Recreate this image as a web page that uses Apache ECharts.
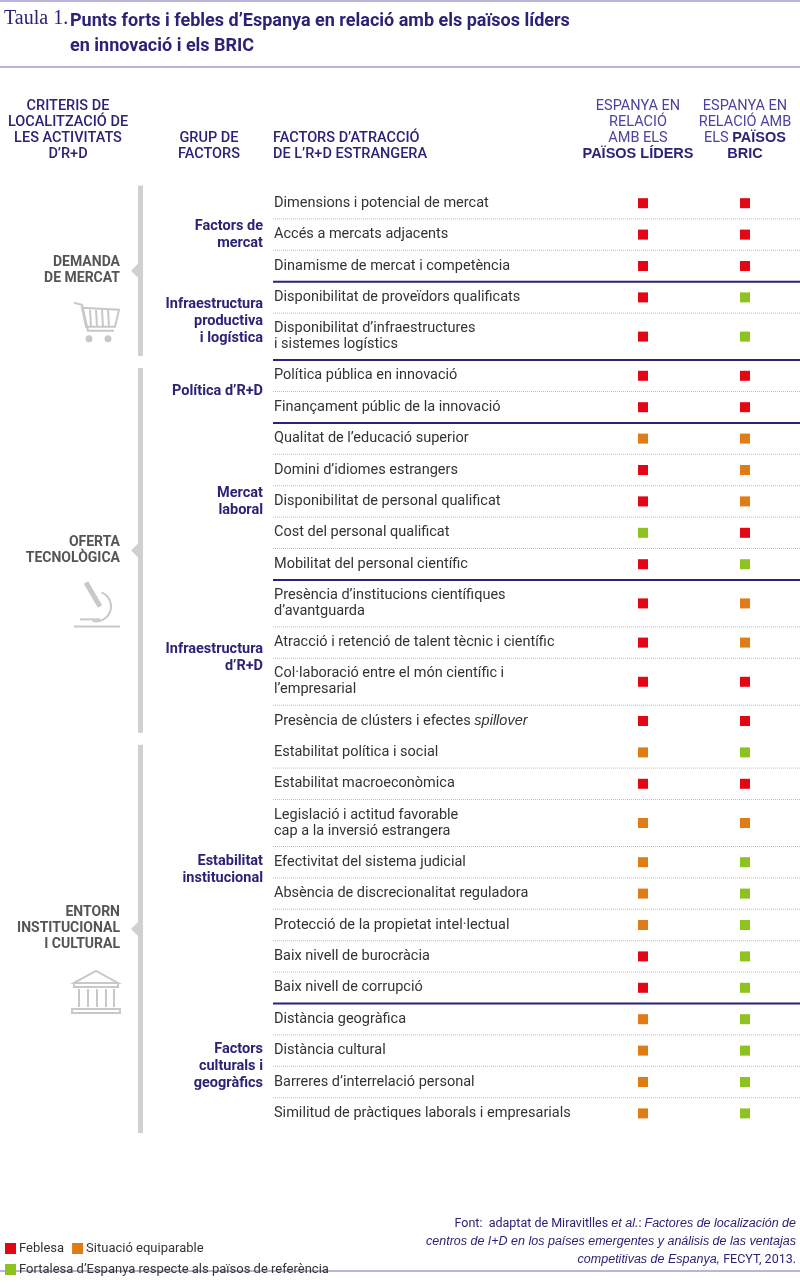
<!DOCTYPE html>
<html><head><meta charset="utf-8">
<script src="https://cdn.jsdelivr.net/npm/echarts@6/dist/echarts.min.js"></script>
<style>html,body{margin:0;background:#fff}#main{width:800px;height:1284px}</style>
</head><body><div id="main"></div>
<script>
// factors (rows), line-count of each row, and status vs leaders / BRIC
// 0 = Feblesa, 1 = Situació equiparable, 2 = Fortalesa
const factors = [
  'Dimensions i potencial de mercat', 'Accés a mercats adjacents', 'Dinamisme de mercat i competència',
  'Disponibilitat de proveïdors qualificats', 'Disponibilitat d’infraestructures\ni sistemes logístics',
  'Política pública en innovació', 'Finançament públic de la innovació',
  'Qualitat de l’educació superior', 'Domini d’idiomes estrangers', 'Disponibilitat de personal qualificat',
  'Cost del personal qualificat', 'Mobilitat del personal científic',
  'Presència d’institucions científiques\nd’avantguarda', 'Atracció i retenció de talent tècnic i científic',
  'Col·laboració entre el món científic i\nl’empresarial', 'Presència de clústers i efectes {i|spillover}',
  'Estabilitat política i social', 'Estabilitat macroeconòmica',
  'Legislació i actitud favorable\ncap a la inversió estrangera', 'Efectivitat del sistema judicial',
  'Absència de discrecionalitat reguladora', 'Protecció de la propietat intel·lectual',
  'Baix nivell de burocràcia', 'Baix nivell de corrupció',
  'Distància geogràfica', 'Distància cultural', 'Barreres d’interrelació personal',
  'Similitud de pràctiques laborals i empresarials'
];
const leaders = [0,0,0,0,0, 0,0, 1,0,0,2,0, 0,0,0,0, 1,0,1,1,1,1,0,0, 1,1,1,1];
const bric    = [0,0,0,2,2, 0,0, 1,1,1,0,2, 1,1,0,0, 2,0,1,2,2,2,2,2, 2,2,2,2];
const columns = ['Líders', 'BRIC'];
const statusNames = ['Feblesa', 'Situació equiparable', 'Fortalesa d’Espanya respecte als països de referència'];
const statusColors = ['#e30613', '#e07c16', '#8dc21f'];
// groups: [label, first row, last row]
const groups = [
  ['Factors de\nmercat', 0, 2], ['Infraestructura\nproductiva\ni logística', 3, 4],
  ['Política d’R+D', 5, 6], ['Mercat\nlaboral', 7, 11], ['Infraestructura\nd’R+D', 12, 15],
  ['Estabilitat\ninstitucional', 16, 23], ['Factors\nculturals i\ngeogràfics', 24, 27]
];
const criteria = [
  ['DEMANDA\nDE MERCAT', 0, 4], ['OFERTA\nTECNOLÒGICA', 5, 15], ['ENTORN\nINSTITUCIONAL\nI CULTURAL', 16, 27]
];

const TOP = 187.5, SINGLE = 31.4, DOUBLE = 47;
const heights = factors.map(f => f.includes('\n') ? DOUBLE : SINGLE);
const starts = []; let acc = 0;
heights.forEach(h => { starts.push(acc); acc += h; });
const total = acc;
const centers = starts.map((s, i) => s + heights[i] / 2);

const NAVY = '#2b2377', GREY = '#d0d0d0';
const chart = echarts.init(document.getElementById('main'));

const series = statusNames.map((name, k) => ({
  name, type: 'scatter', symbol: 'rect', symbolSize: 10,
  itemStyle: { color: statusColors[k], opacity: 1 },
  data: [].concat(
    leaders.map((v, i) => v === k ? [0, centers[i]] : null).filter(Boolean),
    bric.map((v, i) => v === k ? [1, centers[i]] : null).filter(Boolean))
}));

const g = [];
const txt = (x, y, text, style) => g.push({ type: 'text', x, y, style: Object.assign({ text, fontFamily: 'Roboto', fontSize: 14, fill: '#333' }, style) });
const line = (x1, y1, x2, y2, stroke, lineWidth, lineDash) => g.push({ type: 'line', shape: { x1, y1, x2, y2 }, style: { stroke, lineWidth, lineDash } });

// title and rules
line(0, 1, 800, 1, '#b9b5da', 2);
line(0, 67, 800, 67, '#b9b5da', 2);
line(0, 1271, 800, 1271, '#b9b5da', 2);
txt(4, 9, 'Taula 1.', { fontFamily: 'Liberation Serif', fontSize: 20, fill: NAVY });
txt(70, 9, 'Punts forts i febles d’Espanya en relació amb els països líders\nen innovació i els BRIC',
  { fontSize: 18, fontWeight: 'bold', fill: NAVY, lineHeight: 25 });
// headers
const hdr = { fontSize: 14.5, fill: NAVY, lineHeight: 16, fontWeight: 500 };
txt(68, 98, 'CRITERIS DE\nLOCALITZACIÓ DE\nLES ACTIVITATS\nD’R+D', Object.assign({ align: 'center' }, hdr));
txt(209, 130, 'GRUP DE\nFACTORS', Object.assign({ align: 'center' }, hdr));
txt(273, 130, 'FACTORS D’ATRACCIÓ\nDE L’R+D ESTRANGERA', hdr);
['ESPANYA EN\nRELACIÓ\nAMB ELS\n{b|PAÏSOS LÍDERS}', 'ESPANYA EN\nRELACIÓ AMB\nELS {b|PAÏSOS}\n{b|BRIC}'].forEach((t, i) =>
  txt(i ? 745 : 638, 98, t, { align: 'center', fontSize: 14.5, fill: '#4a43a0', lineHeight: 16,
    rich: { b: { fontWeight: 'bold', fill: NAVY, fontSize: 14.5 } } }));

// rows
factors.forEach((f, i) => {
  txt(274, TOP + centers[i], f, { verticalAlign: 'middle', lineHeight: 16, fontSize: 14.5,
    rich: { i: { fontStyle: 'italic', fontSize: 14.5, fill: '#333' } } });
  if (i < factors.length - 1) {
    const y = TOP + starts[i] + heights[i];
    const thick = groups.some(gr => gr[2] === i);
    if (i !== 15) line(273, y, 800, y, thick ? NAVY : '#bdbdd0', thick ? 2 : 1, thick ? null : [1, 1]);
  }
});
groups.forEach(([lab, a, b]) => {
  const y = TOP + (starts[a] + starts[b] + heights[b]) / 2;
  txt(263, y, lab, { align: 'right', verticalAlign: 'middle', fontWeight: 'bold', fill: NAVY, lineHeight: 17, fontSize: 14.5 });
});
criteria.forEach(([lab, a, b]) => {
  const y0 = TOP + starts[a] + (a ? 8 : -2), y1 = TOP + starts[b] + heights[b] - (b < 27 ? 4 : -4);
  const mid = (y0 + y1) / 2 - (a === 16 ? 10 : 0);
  g.push({ type: 'rect', shape: { x: 138, y: y0, width: 5, height: y1 - y0 }, style: { fill: GREY } });
  g.push({ type: 'polygon', shape: { points: [[138, mid - 7], [131, mid], [138, mid + 7]] }, style: { fill: GREY } });
  const n = lab.split('\n').length;
  txt(120, mid, lab, { align: 'right', verticalAlign: 'middle', fontWeight: 'bold', fill: '#555', fontSize: 14, lineHeight: 16 });
  // icons
  const iy = mid + n * 8 + 16;
  const ic = { stroke: '#c8c8c8', lineWidth: 2, fill: 'none' };
  if (a === 0) {
    g.push({ type: 'polyline', shape: { points: [[74, iy], [82, iy + 2], [88, iy + 28], [114, iy + 28]] }, style: ic });
    g.push({ type: 'polygon', shape: { points: [[82, iy + 5], [119, iy + 7], [115, iy + 24], [86, iy + 24]] }, style: ic });
    [90, 96, 102, 108].forEach(x => line(x, iy + 7, x + 1, iy + 24, '#c8c8c8', 2));
    [[89, iy + 36], [108, iy + 36]].forEach(([cx, cy]) => g.push({ type: 'circle', shape: { cx, cy, r: 3.5 }, style: { fill: '#c8c8c8' } }));
  } else if (a === 5) {
    g.push({ type: 'polyline', shape: { points: [[86, iy], [100, iy + 24]] }, style: Object.assign({}, ic, { lineWidth: 5 }) });
    g.push({ type: 'arc', shape: { cx: 96, cy: iy + 24, r: 15, startAngle: -1.2, endAngle: 1.8 }, style: ic });
    line(74, iy + 44, 120, iy + 44, '#c8c8c8', 2);
    line(80, iy + 37, 100, iy + 37, '#c8c8c8', 2);
  } else {
    g.push({ type: 'polygon', shape: { points: [[74, iy + 14], [96, iy + 2], [118, iy + 14]] }, style: ic });
    g.push({ type: 'rect', shape: { x: 74, y: iy + 14, width: 44, height: 4 }, style: ic });
    [79, 88, 97, 106, 114].forEach(x => line(x, iy + 20, x, iy + 38, '#c8c8c8', 2));
    g.push({ type: 'rect', shape: { x: 72, y: iy + 40, width: 48, height: 4 }, style: ic });
  }
});
// source
txt(796, 1215, 'Font:  adaptat de Miravitlles {i|et al.}: {i|Factores de localización de}\n{i|centros de I+D en los países emergentes y análisis de las ventajas}\n{i|competitivas de Espanya,} FECYT, 2013.',
  { align: 'right', fontSize: 12.5, fill: NAVY, lineHeight: 18,
    rich: { i: { fontStyle: 'italic', fontSize: 12.5, fill: NAVY } } });

chart.setOption({
  animation: false,
  grid: { left: 592, width: 204, top: TOP, height: total },
  xAxis: { type: 'category', data: columns, show: false },
  yAxis: { type: 'value', min: 0, max: total, inverse: true, show: false },
  legend: { left: 0, top: 1237, width: 250, itemWidth: 11, itemHeight: 11, itemGap: 8,
    textStyle: { fontSize: 13, color: '#333', fontFamily: 'Roboto', padding: [0, 0, 0, -2] },
    data: statusNames.map(n => ({ name: n, icon: 'rect' })) },
  graphic: g,
  series
});
</script></body></html>
